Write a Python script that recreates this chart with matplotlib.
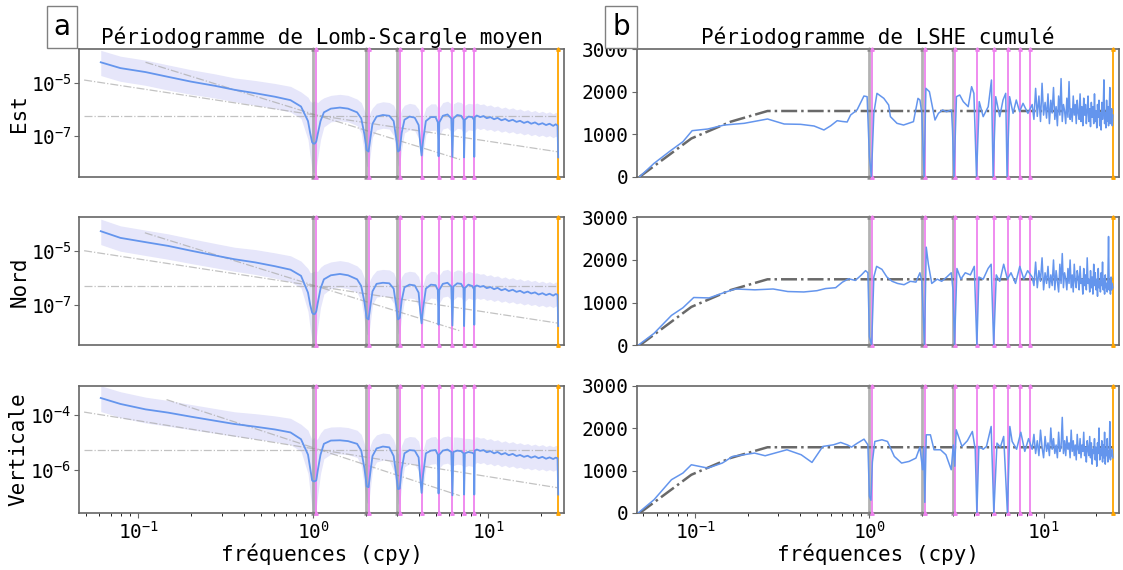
import numpy as np
import matplotlib
matplotlib.use("Agg")
import matplotlib.pyplot as plt
from matplotlib.ticker import NullLocator

plt.rcParams['font.family'] = ['DejaVu Sans Mono']
plt.rcParams['mathtext.fontset'] = 'custom'
plt.rcParams['mathtext.rm'] = 'DejaVu Sans Mono'
plt.rcParams['mathtext.it'] = 'DejaVu Sans Mono'
plt.rcParams['mathtext.bf'] = 'DejaVu Sans Mono'
plt.rcParams['font.size'] = 14

# --- vertical reference frequencies (cpy)
annual_f = [1.0, 2.0, 3.0]
draconitic_f = [1.04, 2.08, 3.12, 4.16, 5.20, 6.24, 7.28, 8.32]
nyquist_f = 25.1

# --- mean Lomb-Scargle periodogram (log10 of power), low/mid frequencies
ls_freq = [0.061, 0.079, 0.110, 0.148, 0.200, 0.275, 0.355, 0.468, 0.603, 0.741,
           0.851, 0.933, 0.960, 0.985, 1.000, 1.020, 1.040, 1.060, 1.100, 1.150,
           1.26, 1.42, 1.58, 1.78, 1.88, 1.96, 2.02, 2.07, 2.12, 2.18,
           2.30, 2.50, 2.72, 2.88, 2.98, 3.05, 3.12, 3.20, 3.32, 3.55,
           3.80, 4.00, 4.10, 4.16, 4.24, 4.40, 4.70, 5.00, 5.15, 5.20,
           5.25, 5.50, 5.85, 6.15, 6.24, 6.32, 6.65, 7.00, 7.22, 7.28,
           7.35, 7.70, 8.10, 8.28, 8.32, 8.38]

log_est = [-4.23, -4.45, -4.60, -4.78, -4.96, -5.12, -5.27, -5.40, -5.53, -5.66,
           -5.90, -6.45, -6.90, -7.25, -7.30, -7.30, -7.22, -6.95, -6.45, -6.12,
           -5.98, -5.94, -5.98, -6.12, -6.35, -6.95, -7.55, -7.60, -7.10, -6.55,
           -6.28, -6.22, -6.25, -6.45, -7.10, -7.60, -7.55, -6.90, -6.40, -6.28,
           -6.32, -6.60, -7.40, -7.75, -7.20, -6.45, -6.30, -6.30, -6.50, -7.78,
           -6.50, -6.25, -6.20, -6.35, -7.80, -6.35, -6.22, -6.25, -6.40, -7.82,
           -6.40, -6.28, -6.30, -6.40, -7.80, -6.30]

log_nord = [-4.25, -4.50, -4.66, -4.80, -4.98, -5.16, -5.30, -5.42, -5.56, -5.69,
            -5.92, -6.55, -7.00, -7.30, -7.35, -7.35, -7.25, -6.95, -6.40, -6.05,
            -5.90, -5.85, -5.90, -6.05, -6.30, -6.90, -7.50, -7.55, -7.05, -6.50,
            -6.22, -6.18, -6.20, -6.40, -7.05, -7.55, -7.50, -6.85, -6.35, -6.25,
            -6.28, -6.55, -7.35, -7.70, -7.15, -6.40, -6.25, -6.27, -6.45, -7.75,
            -6.45, -6.22, -6.18, -6.32, -7.78, -6.32, -6.20, -6.22, -6.38, -7.80,
            -6.38, -6.25, -6.30, -6.42, -7.75, -6.32]

log_vert = [-3.36, -3.58, -3.78, -3.90, -4.05, -4.20, -4.32, -4.42, -4.52, -4.63,
            -4.88, -5.45, -5.95, -6.40, -6.43, -6.43, -6.40, -6.05, -5.45, -5.05,
            -4.93, -4.92, -4.95, -5.05, -5.30, -5.95, -6.62, -6.65, -6.10, -5.50,
            -5.22, -5.15, -5.18, -5.50, -6.20, -6.72, -6.70, -6.00, -5.40, -5.28,
            -5.30, -5.55, -6.40, -6.86, -6.20, -5.40, -5.30, -5.28, -5.45, -6.88,
            -5.45, -5.30, -5.26, -5.35, -6.95, -5.35, -5.30, -5.32, -5.40, -6.92,
            -5.40, -5.35, -5.38, -5.42, -6.92, -5.30]

# spread of the shaded band around the mean (decades above / below)
band_up = [0.45, 0.45, 0.45, 0.45, 0.45, 0.45, 0.45, 0.48, 0.50, 0.52,
           0.55, 0.90, 1.20, 1.50, 1.60, 1.60, 1.50, 1.20, 0.80, 0.55,
           0.50, 0.50, 0.50, 0.50, 0.60, 0.90, 1.30, 1.30, 1.00, 0.60,
           0.50, 0.50, 0.50, 0.60, 1.00, 1.30, 1.30, 0.90, 0.55, 0.50,
           0.50, 0.60, 1.10, 1.40, 0.90, 0.50, 0.50, 0.50, 0.55, 1.50,
           0.55, 0.50, 0.50, 0.55, 1.50, 0.55, 0.50, 0.50, 0.55, 1.50,
           0.55, 0.50, 0.50, 0.55, 1.50, 0.50]
band_dn = [0.50, 0.50, 0.50, 0.50, 0.48, 0.46, 0.45, 0.45, 0.45, 0.45,
           0.45, 0.70, 0.90, 1.05, 1.10, 1.10, 1.00, 0.90, 0.70, 0.55,
           0.50, 0.50, 0.50, 0.50, 0.55, 0.70, 0.60, 0.60, 0.60, 0.50,
           0.50, 0.50, 0.50, 0.55, 0.60, 0.55, 0.55, 0.60, 0.50, 0.50,
           0.50, 0.50, 0.40, 0.30, 0.50, 0.50, 0.50, 0.50, 0.50, 0.20,
           0.50, 0.50, 0.50, 0.50, 0.20, 0.50, 0.50, 0.50, 0.50, 0.20,
           0.50, 0.50, 0.50, 0.50, 0.20, 0.50]

# high-frequency tail of the mean periodogram
ls_tail_freq = [8.6, 9.0, 9.4, 9.8, 10.3, 10.8, 11.3, 11.9, 12.5, 13.1,
                13.8, 14.5, 15.2, 16.0, 16.8, 17.6, 18.5, 19.4, 20.4, 21.4,
                22.4, 23.5, 24.3, 24.9, 25.1]
est_tail = [-6.24, -6.30, -6.26, -6.34, -6.30, -6.38, -6.33, -6.42, -6.37, -6.45,
            -6.40, -6.48, -6.44, -6.52, -6.47, -6.55, -6.50, -6.58, -6.53, -6.60,
            -6.55, -6.63, -6.57, -6.62, -7.82]
nord_tail = [-6.28, -6.33, -6.30, -6.38, -6.34, -6.42, -6.37, -6.46, -6.41, -6.49,
             -6.44, -6.52, -6.48, -6.56, -6.51, -6.58, -6.54, -6.62, -6.57, -6.64,
             -6.59, -6.66, -6.60, -6.63, -7.80]
vert_tail = [-5.26, -5.31, -5.28, -5.36, -5.32, -5.40, -5.35, -5.44, -5.39, -5.47,
             -5.42, -5.50, -5.46, -5.53, -5.49, -5.56, -5.51, -5.58, -5.53, -5.60,
             -5.55, -5.61, -5.56, -5.58, -6.92]
tail_up = [0.47, 0.47, 0.46, 0.46, 0.46, 0.46, 0.45, 0.45, 0.45, 0.45,
           0.45, 0.45, 0.45, 0.45, 0.45, 0.45, 0.45, 0.45, 0.45, 0.45,
           0.45, 0.45, 0.45, 0.45, 1.20]
tail_dn = [0.47, 0.47, 0.46, 0.46, 0.46, 0.46, 0.45, 0.45, 0.45, 0.45,
           0.45, 0.45, 0.45, 0.45, 0.45, 0.45, 0.45, 0.45, 0.45, 0.45,
           0.45, 0.45, 0.45, 0.45, 0.20]

# noise model reference lines: (f_start, f_end, log_start, log_end)
wn_est, fn_est, rw_est = (0.049, 25.0, -6.26, -6.26), (0.049, 25.0, -4.90, -7.61), (0.110, 6.9, -4.23, -7.90)
wn_nord, fn_nord, rw_nord = (0.049, 25.0, -6.29, -6.29), (0.049, 25.0, -4.98, -7.69), (0.109, 6.9, -4.31, -7.98)
wn_vert, fn_vert, rw_vert = (0.049, 25.0, -5.28, -5.28), (0.049, 25.0, -3.88, -6.67), (0.145, 6.87, -3.42, -6.96)

# --- cumulative LSHE periodogram
model_freq = [0.048, 0.095, 0.16, 0.26, 25.1]
model_val = [0, 900, 1296, 1547, 1547]

freq_est_r = [0.048, 0.058, 0.073, 0.085, 0.096, 0.118, 0.147, 0.191, 0.26, 0.324,
              0.403, 0.481, 0.548, 0.60, 0.653, 0.70, 0.745, 0.78, 0.849, 0.93,
              0.97, 1.0, 1.026, 1.06, 1.105, 1.21, 1.29, 1.32, 1.44, 1.57,
              1.79, 1.90, 1.95, 2.0, 2.06, 2.11, 2.21, 2.38, 2.49, 2.63,
              2.77, 2.96, 3.0, 3.06, 3.16, 3.30, 3.46, 3.69, 3.86, 3.98,
              4.12, 4.27, 4.50, 4.81, 5.02, 5.13, 5.31, 5.60, 5.85, 6.06,
              6.17, 6.38, 6.68, 6.97, 7.28, 7.62, 8.13]
est_r = [0, 314, 628, 825, 1084, 1123, 1217, 1257, 1359, 1241,
         1233, 1194, 1100, 1200, 1319, 1300, 1288, 1453, 1571, 1900,
         1885, 471, 0, 1492, 1963, 1845, 1688, 1414, 1257, 1217,
         1296, 1845, 1806, 1492, 0, 2081, 2003, 1335, 1492, 1571,
         1531, 1571, 1100, 0, 1885, 1924, 1767, 1649, 2120, 1963,
         0, 1767, 1414, 1649, 2277, 0, 1885, 1414, 1806, 1963,
         0, 1885, 1492, 1806, 1531, 1728, 1492]

freq_nord_r = [0.047, 0.058, 0.073, 0.085, 0.098, 0.12, 0.15, 0.17, 0.22, 0.28,
               0.34, 0.42, 0.50, 0.56, 0.64, 0.70, 0.76, 0.83, 0.90, 0.95,
               0.98, 1.0, 1.03, 1.06, 1.10, 1.18, 1.26, 1.35, 1.45, 1.58,
               1.72, 1.85, 1.95, 2.0, 2.07, 2.12, 2.18, 2.28, 2.45, 2.60,
               2.78, 2.95, 3.02, 3.08, 3.18, 3.35, 3.55, 3.80, 4.0, 4.14,
               4.25, 4.50, 4.80, 5.0, 5.17, 5.35, 5.60, 5.90, 6.20, 6.50,
               6.90, 7.30, 7.70, 8.10]
nord_r = [0, 280, 700, 880, 1120, 1110, 1250, 1320, 1300, 1320,
          1260, 1250, 1280, 1330, 1350, 1480, 1560, 1520, 1650, 1750,
          1700, 200, 0, 1600, 1850, 1780, 1600, 1500, 1450, 1420,
          1500, 1480, 1700, 1500, 0, 2300, 1900, 1450, 1550, 1500,
          1600, 1700, 1300, 0, 1800, 1550, 1700, 1650, 1850, 0,
          1600, 1550, 1800, 1900, 0, 1650, 1500, 1900, 1550, 1700,
          1450, 1850, 1550, 1750]

freq_vert_r = [0.047, 0.058, 0.073, 0.085, 0.095, 0.118, 0.143, 0.164, 0.219, 0.252,
               0.336, 0.406, 0.468, 0.54, 0.622, 0.684, 0.75, 0.789, 0.85, 0.931,
               0.98, 1.0, 1.02, 1.04, 1.074, 1.18, 1.27, 1.39, 1.53, 1.69,
               1.85, 1.95, 2.02, 2.05, 2.08, 2.12, 2.24, 2.35, 2.56, 2.75,
               2.95, 3.03, 3.09, 3.15, 3.40, 3.65, 3.90, 4.05, 4.14, 4.25,
               4.50, 4.70, 5.00, 5.18, 5.40, 5.65, 5.90, 6.20, 6.40, 6.60,
               7.00, 7.40, 7.80, 8.20]
vert_r = [0, 313, 783, 940, 1135, 1057, 1175, 1331, 1410, 1347,
          1488, 1370, 1190, 1566, 1605, 1660, 1600, 1550, 1640, 1738,
          1605, 392, 300, 1200, 1683, 1723, 1683, 1331, 1175, 1214,
          1292, 1550, 1018, 1550, 250, 1840, 1840, 1488, 1488, 1370,
          1018, 1600, 1100, 1958, 1566, 1700, 1918, 1500, 0, 1566,
          1500, 1566, 2036, 0, 1644, 1550, 1801, 0, 2036, 1683,
          1500, 1900, 1450, 1750]

# high-frequency tail of the cumulative periodogram
lshe_tail_freq = [8.6, 8.8, 9.0, 9.2, 9.4, 9.6, 9.8, 10.0, 10.2, 10.4,
                  10.6, 10.8, 11.0, 11.2, 11.4, 11.6, 11.8, 12.0, 12.2, 12.4,
                  12.6, 12.8, 13.0, 13.2, 13.4, 13.6, 13.8, 14.0, 14.2, 14.4,
                  14.6, 14.8, 15.0, 15.2, 15.4, 15.6, 15.8, 16.0, 16.2, 16.4,
                  16.6, 16.8, 17.0, 17.2, 17.4, 17.6, 17.8, 18.0, 18.2, 18.4,
                  18.6, 18.8, 19.0, 19.2, 19.4, 19.6, 19.8, 20.0, 20.2, 20.4,
                  20.6, 20.8, 21.0, 21.2, 21.4, 21.6, 21.8, 22.0, 22.2, 22.4,
                  22.6, 22.8, 23.0, 23.2, 23.4, 23.6, 23.8, 24.0, 24.2, 24.4,
                  24.6, 24.8, 25.0]
est_r_tail = [1700, 1350, 2080, 1420, 1900, 1300, 2200, 1450, 1750, 1380,
              1950, 1250, 1800, 1500, 2100, 1350, 1650, 1200, 1900, 1450,
              2310, 1300, 1700, 1550, 1250, 1850, 1400, 2240, 1350, 1600,
              1300, 1900, 1450, 1700, 1250, 1800, 1500, 1350, 1950, 1300,
              1650, 1200, 1850, 1450, 1700, 1250, 1550, 1900, 1300, 1600,
              1180, 1750, 1400, 1650, 1250, 1950, 1300, 1550, 1150, 1700,
              1400, 1800, 1200, 1500, 1100, 1750, 1350, 1600, 2280, 1250,
              1500, 1150, 1800, 1300, 1650, 1200, 1450, 2100, 1250, 1350,
              1600, 1200, 1450]
nord_r_tail = [1600, 1400, 1950, 1350, 1750, 1500, 2050, 1300, 1700, 1450,
               1850, 1350, 1650, 1400, 2000, 1300, 1750, 1500, 1250, 1900,
               1450, 2150, 1350, 1700, 1550, 1300, 1800, 1450, 2000, 1350,
               1650, 1250, 1900, 1500, 1350, 1750, 1600, 1300, 1850, 1450,
               1550, 1200, 1800, 1400, 1650, 1300, 2050, 1450, 1550, 1250,
               1750, 1350, 1600, 1200, 1900, 1400, 1700, 1300, 1550, 1150,
               1800, 1350, 1500, 1250, 1700, 1400, 1950, 1300, 1550, 1200,
               1650, 1350, 1450, 1250, 1550, 2550, 1300, 1500, 1200, 1600,
               1300, 1450, 1350]
vert_r_tail = [1500, 1850, 1400, 1700, 1350, 1950, 1550, 1300, 1800, 1450,
               1650, 1350, 2000, 1500, 1750, 1400, 1600, 1300, 1900, 1450,
               1550, 2250, 1400, 1700, 1350, 1800, 1500, 1650, 1300, 1950,
               1450, 1700, 1350, 1600, 1250, 1850, 1500, 1400, 1750, 1300,
               1600, 1450, 1900, 1350, 1550, 1200, 1700, 1500, 1350, 1800,
               1300, 1650, 1150, 1500, 1400, 1750, 1250, 1550, 1100, 1650,
               1400, 2000, 1250, 1500, 1350, 1700, 1200, 1600, 1300, 1900,
               1150, 1500, 1350, 1750, 1200, 1450, 1300, 2150, 1250, 1400,
               1350, 1500, 1300]

components = ['Est', 'Nord', 'Verticale']
left_data = [(log_est, est_tail), (log_nord, nord_tail), (log_vert, vert_tail)]
left_refs = [(wn_est, fn_est, rw_est), (wn_nord, fn_nord, rw_nord), (wn_vert, fn_vert, rw_vert)]
left_ylim = [(-8.55, -3.74), (-8.52, -3.73), (-7.60, -2.90)]
left_ticks = [[1e-5, 1e-7], [1e-5, 1e-7], [1e-4, 1e-6]]
right_data = [(freq_est_r, est_r, est_r_tail), (freq_nord_r, nord_r, nord_r_tail),
              (freq_vert_r, vert_r, vert_r_tail)]

W, H = 1123, 570
fig = plt.figure(figsize=(W / 100, H / 100), dpi=100)

rows_px = [(49.3, 176.7), (217.3, 345.3), (385.5, 513.0)]
left_px = (79.3, 564.0)
right_px = (636.5, 1119.0)
spine_col = '#666666'


def make_ax(xpx, ypx):
    return fig.add_axes([xpx[0] / W, 1 - ypx[1] / H, (xpx[1] - xpx[0]) / W, (ypx[1] - ypx[0]) / H])


def add_vlines(ax):
    tr = ax.get_xaxis_transform()
    for f in annual_f:
        ax.plot([f, f], [0, 1], transform=tr, color='grey', alpha=0.6, lw=2.0,
                marker='^', ms=2.5, clip_on=False, zorder=3)
    for f in draconitic_f:
        ax.plot([f, f], [0, 1], transform=tr, color='violet', lw=1.3,
                marker='^', ms=2.5, clip_on=False, zorder=3)
    ax.plot([nyquist_f, nyquist_f], [0, 1], transform=tr, color='orange', lw=1.3,
            marker='^', ms=2.5, clip_on=False, zorder=3)


def style(ax, bottom):
    ax.set_xscale('log')
    ax.set_xlim(0.046, 27.1)
    for s in ax.spines.values():
        s.set_color(spine_col)
        s.set_linewidth(1.2)
    ax.tick_params(colors=spine_col, labelcolor='black', labelsize=14, pad=2)
    if not bottom:
        ax.tick_params(axis='x', which='both', bottom=False, labelbottom=False)
    else:
        ax.set_xlabel('fréquences (cpy)', fontsize=15, labelpad=1)


freq = np.array(ls_freq + ls_tail_freq)
up = np.array(band_up + tail_up)
dn = np.array(band_dn + tail_dn)
for i in range(3):
    # left: mean Lomb-Scargle periodogram
    ax = make_ax(left_px, rows_px[i])
    lv = np.array(left_data[i][0] + left_data[i][1])
    ax.fill_between(freq, 10 ** (lv + up), 10 ** (lv - dn), color='lavender', lw=0, zorder=1)
    for (f0, f1, y0, y1) in left_refs[i]:
        ax.plot([f0, f1], [10 ** y0, 10 ** y1], color='darkgrey', ls='-.', lw=0.9,
                alpha=0.7, zorder=2)
    add_vlines(ax)
    ax.plot(freq, 10 ** lv, color='cornflowerblue', lw=1.3, zorder=5)
    ax.set_yscale('log')
    ax.set_ylim(10 ** left_ylim[i][0], 10 ** left_ylim[i][1])
    ax.set_yticks(left_ticks[i])
    ax.yaxis.set_minor_locator(NullLocator())
    ax.set_ylabel(components[i], fontsize=15, labelpad=1)
    style(ax, i == 2)
    if i == 0:
        ax.set_title('Périodogramme de Lomb-Scargle moyen', fontsize=15, pad=4)

    # right: cumulative LSHE periodogram
    ax = make_ax(right_px, rows_px[i])
    ax.plot(model_freq, model_val, color='dimgrey', ls='-.', lw=1.8, zorder=2)
    add_vlines(ax)
    fr, vr, vt = right_data[i]
    ax.plot(fr + lshe_tail_freq, vr + vt, color='cornflowerblue', lw=1.1, zorder=5)
    ax.set_ylim(0, 3000)
    ax.set_yticks([0, 1000, 2000, 3000])
    style(ax, i == 2)
    if i == 0:
        ax.set_title('Périodogramme de LSHE cumulé', fontsize=15, pad=4)

for lab, x in [('a', 62 / W), ('b', 621 / W)]:
    fig.text(x, 1 - 27 / H, lab, family='DejaVu Sans', fontsize=20, ha='center', va='center',
             bbox=dict(boxstyle='square,pad=0.25', fc='white', ec='grey', lw=1))

fig.savefig('out.png', dpi=100)
